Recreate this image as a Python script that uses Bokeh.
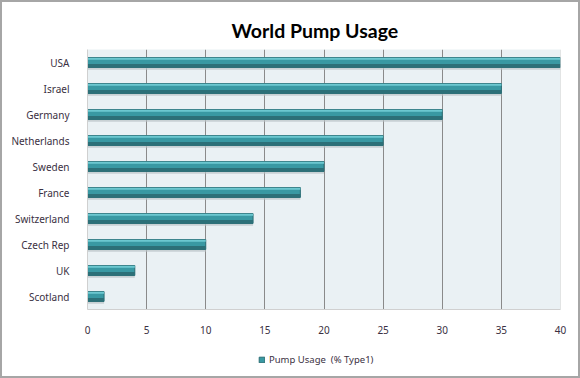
from bokeh.plotting import figure
from bokeh.layouts import column
from bokeh.models import FactorRange, Range1d, Legend, LegendItem, FixedTicker, Span
from bokeh.transform import dodge
from bokeh.embed import file_html
from bokeh.resources import INLINE

title = "World Pump Usage"
countries = ["USA", "Israel", "Germany", "Netherlands", "Sweden", "France",
             "Switzerland", "Czech Rep", "UK", "Scotland"]
usage = [40, 35, 30, 25, 20, 18, 14, 10, 4, 1.4]
series_name = "Pump Usage  (% Type1)"
x_ticks = [0, 5, 10, 15, 20, 25, 30, 35, 40]

factors = list(reversed(countries))
data = dict(country=countries, usage=usage)

BAR_FILL = "#3999a3"
BAR_LINE = "#2a6d74"

p = figure(width=576, height=334, output_backend="svg", toolbar_location=None,
           y_range=FactorRange(factors=factors, range_padding=0),
           x_range=Range1d(x_ticks[0], x_ticks[-1]),
           min_border_left=85, min_border_right=18, min_border_top=47, min_border_bottom=24)
p.title.text = title
p.title.align = "left"
p.title.text_font = "Lato"
p.title.text_font_style = "bold"
p.title.text_font_size = "19.5px"
p.title.text_color = "#000000"
p.title.offset = 144
p.title.standoff = 15
p.background_fill_color = "#eaf1f4"
p.border_fill_color = "white"
p.outline_line_color = None

# shadow
p.hbar(y=dodge("country", -0.1, range=p.y_range), right="usage", left=0, height=0.36,
       source=data, fill_color="#b9c3c6", line_color=None, fill_alpha=0.7)
# main bar
p.hbar(y="country", right="usage", left=0, height=0.38, source=data,
       fill_color=BAR_FILL, line_color=BAR_LINE, line_width=1)
# lower dark band
p.hbar(y=dodge("country", -0.12, range=p.y_range), right="usage", left=0, height=0.12,
       source=data, fill_color="#2c7078", line_color=None)
# top highlight
p.hbar(y=dodge("country", 0.145, range=p.y_range), right="usage", left=0, height=0.07,
       source=data, fill_color="#6cc8d0", line_color=None)

p.xgrid.ticker = FixedTicker(ticks=x_ticks[1:-1])
p.xgrid.grid_line_color = "#8a8a8a"
p.ygrid.grid_line_color = None
p.add_layout(Span(location=x_ticks[-1], dimension="height", line_color="#d0d0d0", line_width=1))
p.xaxis.ticker = FixedTicker(ticks=x_ticks)
for ax in (p.xaxis[0], p.yaxis[0]):
    ax.axis_line_color = "#d0d0d0"
    ax.major_tick_line_color = None
    ax.minor_tick_line_color = None
    ax.major_label_text_font = "Noto Sans"
    ax.major_label_text_font_size = "10px"
    ax.major_label_text_color = "#3a3042"
p.xaxis.major_label_standoff = 10
p.yaxis.major_label_standoff = 12

# legend strip (its proxy renderer lies fully outside the visible ranges)
p2 = figure(width=576, height=40, output_backend="svg", toolbar_location=None,
            min_border=0, x_range=Range1d(-3, -2), y_range=Range1d(100, 101))
p2.axis.visible = False
p2.grid.visible = False
p2.outline_line_color = None
p2.border_fill_color = "white"
p2.background_fill_color = "white"
leg_r = p2.hbar(y="usage", right="usage", left=0, height=0.5, source=data,
                fill_color=BAR_FILL, line_color=BAR_LINE, line_width=1)
legend = Legend(items=[LegendItem(label=series_name, renderers=[leg_r])],
                location=(171, 10), orientation="horizontal",
                background_fill_alpha=0, border_line_color=None,
                glyph_width=7, glyph_height=7, label_text_font="Noto Sans",
                label_text_font_size="9.5px", label_text_color="#3a3042",
                padding=0, margin=0, label_standoff=4, label_height=12)
p2.add_layout(legend, "center")

layout = column(p, p2, spacing=0)
layout.styles = {"border": "2px solid #a6a6a6"}

open("out.html", "w").write(file_html(layout, INLINE))
